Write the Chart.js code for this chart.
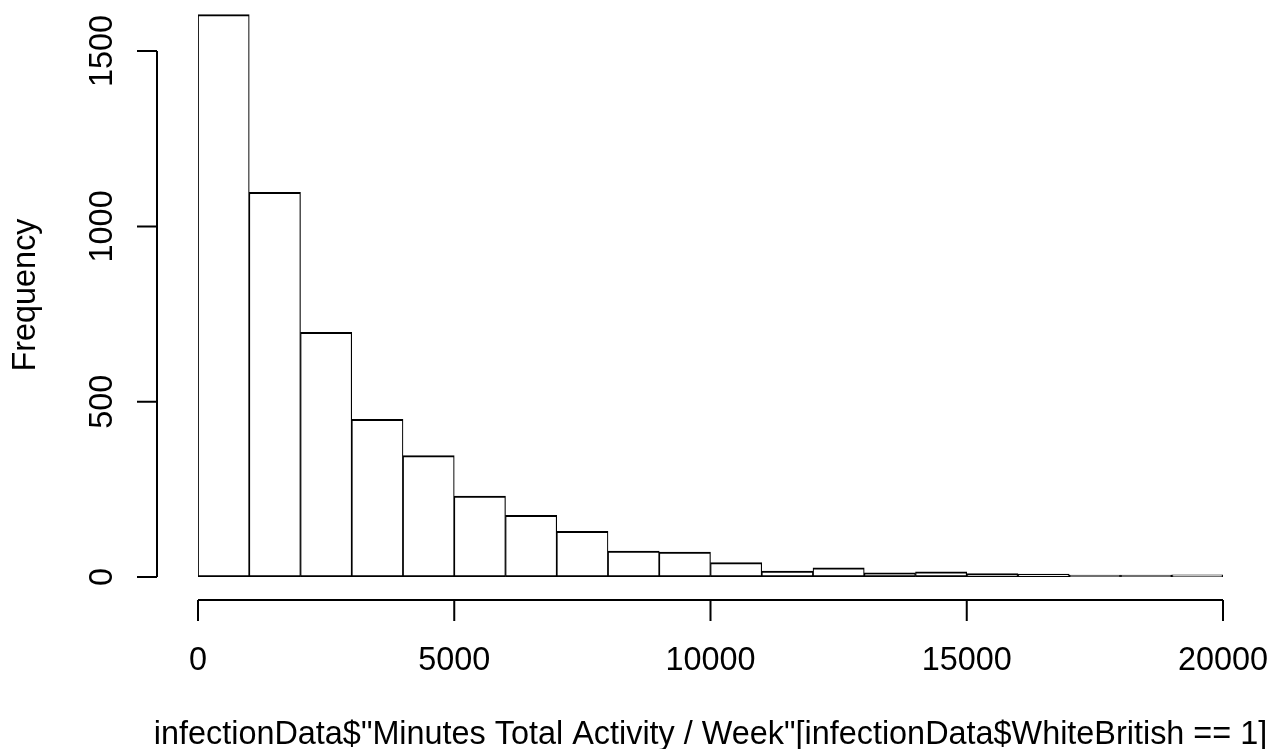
<!DOCTYPE html>
<html>
<head>
<meta charset="utf-8">
<script src="https://cdn.jsdelivr.net/npm/chart.js@4.4.1/dist/chart.umd.min.js"></script>
<style>
html,body{margin:0;padding:0;background:#fff;}
canvas{display:block;}
</style>
</head>
<body>
<canvas id="hist" width="1269" height="749"></canvas>
<script>
// histogram bins (left edges) and counts
const binStarts = [0,1000,2000,3000,4000,5000,6000,7000,8000,9000,10000,11000,12000,13000,14000,15000,16000,17000,18000,19000];
const binWidth = 1000;
const counts = [1604,1097,698,450,346,231,176,130,74,71,41,17,26,12,15,10,8,5,1,6];
const xTicks = [0,5000,10000,15000,20000];
const yTicks = [0,500,1000,1500];
const xLabel = 'infectionData$"Minutes Total Activity / Week"[infectionData$WhiteBritish == 1]';
const yLabel = 'Frequency';

const FONT = '32.4px "Liberation Sans", Arial, Helvetica, sans-serif';

// R style detached axes, drawn from the chart's own scales
const rAxes = {
  id:'rAxes',
  afterDraw(chart){
    const ctx = chart.ctx;
    const x = chart.scales.x, y = chart.scales.y;
    const axisY = Math.round(y.getPixelForValue(0) + 22.5);
    const axisX = Math.round(x.getPixelForValue(0) - 41);
    ctx.save();
    ctx.strokeStyle = '#000';
    ctx.fillStyle = '#000';
    ctx.lineWidth = 2;
    ctx.font = FONT;

    // x axis
    ctx.beginPath();
    ctx.moveTo(x.getPixelForValue(xTicks[0]), axisY);
    ctx.lineTo(x.getPixelForValue(xTicks[xTicks.length-1]), axisY);
    xTicks.forEach(t=>{
      const px = x.getPixelForValue(t);
      ctx.moveTo(px, axisY);
      ctx.lineTo(px, axisY + 21);
    });
    ctx.stroke();
    ctx.textAlign = 'center';
    ctx.textBaseline = 'alphabetic';
    xTicks.forEach(t=>{
      ctx.fillText(String(t), x.getPixelForValue(t), 670);
    });
    ctx.fillText(xLabel, (chart.chartArea.left + chart.chartArea.right)/2, 744);

    // y axis
    ctx.beginPath();
    ctx.moveTo(axisX, y.getPixelForValue(yTicks[0]));
    ctx.lineTo(axisX, y.getPixelForValue(yTicks[yTicks.length-1]));
    yTicks.forEach(t=>{
      const py = y.getPixelForValue(t);
      ctx.moveTo(axisX, py);
      ctx.lineTo(axisX - 20, py);
    });
    ctx.stroke();
    yTicks.forEach(t=>{
      ctx.save();
      ctx.translate(112, y.getPixelForValue(t));
      ctx.rotate(-Math.PI/2);
      ctx.fillText(String(t), 0, 0);
      ctx.restore();
    });
    ctx.save();
    ctx.translate(35, 295);
    ctx.rotate(-Math.PI/2);
    ctx.fillText(yLabel, 0, 0);
    ctx.restore();

    ctx.restore();
  }
};

const points = binStarts.map((s,i)=>({x: s + binWidth/2, y: counts[i]}));

new Chart(document.getElementById('hist').getContext('2d'), {
  type:'bar',
  data:{
    datasets:[{
      data: points,
      backgroundColor:'#ffffff',
      borderColor:'#000000',
      borderWidth:{top:2,left:1.2,right:1.2,bottom:2},
      borderSkipped:false,
      barPercentage:1,
      categoryPercentage:1,
      minBarLength:2
    }]
  },
  options:{
    responsive:false,
    animation:false,
    events:[],
    layout:{padding:{left:198,right:46,top:9,bottom:172}},
    scales:{
      x:{type:'linear',min:0,max:20000,offset:false,display:false},
      y:{min:0,max:1620,display:false}
    },
    plugins:{
      legend:{display:false},
      tooltip:{enabled:false}
    }
  },
  plugins:[rAxes]
});
</script>
</body>
</html>
